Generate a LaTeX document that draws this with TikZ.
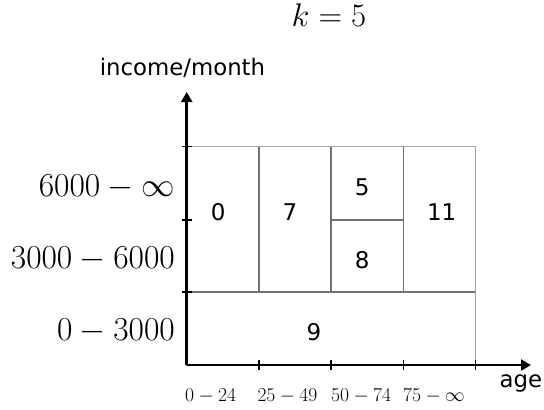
\RequirePackage{fix-cm}
\documentclass[tikz,border=0pt]{standalone}
\usepackage{fontspec}
\setsansfont{DejaVu Sans}
\usetikzlibrary{arrows.meta}
\begin{document}
\begin{tikzpicture}[x=1pt,y=-1pt,
  axisline/.style={line width=2.5pt,-{Triangle[length=10pt,width=11pt]}},
  tickline/.style={line width=1.2pt},
  cellline/.style={draw=black!55,line width=1.2pt},
  outerline/.style={draw=black!35,line width=1.2pt},
  cellnum/.style={font=\sffamily\fontsize{23}{27}\selectfont,inner sep=0pt},
  axlabel/.style={font=\sffamily\fontsize{22.8}{27}\selectfont,inner sep=0pt},
  incomelabel/.style={font=\fontsize{33.5}{38}\selectfont,inner sep=0pt,anchor=base east},
  agelabel/.style={font=\fontsize{19.6}{23}\selectfont,inner sep=0pt,anchor=base west},
  titlelabel/.style={font=\fontsize{32.8}{37}\selectfont,inner sep=0pt,anchor=base}]
\useasboundingbox (0,0) rectangle (544,410);
% coordinates
\coordinate (O) at (186.7,365);
\coordinate (ytop) at (186.7,92);
\coordinate (xend) at (531,365);
% cells
\draw[cellline] (186.7,146.7) rectangle (259,292);
\draw[cellline] (259,146.7) rectangle (331,292);
\draw[cellline] (331,146.7) rectangle (403.3,220);
\draw[cellline] (331,220) rectangle (403.3,292);
\draw[cellline] (403.3,146.7) rectangle (475.3,292);
\draw[cellline] (186.7,292) rectangle (475.3,365);
\draw[outerline] (186.7,146.7) -- (475.3,146.7) -- (475.3,365);
% cell labels
\node[cellnum] (n0) at (218.3,211.7) {0};
\node[cellnum] (n7) at (290,211.7) {7};
\node[cellnum] (n5) at (362.3,187.7) {5};
\node[cellnum] (n8) at (362.3,260) {8};
\node[cellnum] (n11) at (441.7,211.7) {11};
\node[cellnum] (n9) at (314,331.7) {9};
% ticks
\foreach \yy in {146.7,220,292} \draw[tickline] (181.7,\yy) -- (191.7,\yy);
\foreach \xx in {259,331,403.3,475.3} \draw[tickline] (\xx,360) -- (\xx,370);
% axes
\draw[axisline] (O) -- (ytop);
\draw[axisline] (O) -- (xend);
% axis labels
\node[axlabel,anchor=base] (ylab) at (182.5,75) {income/month};
\node[axlabel,anchor=base west] (xlab) at (499.5,387) {age};
\node[titlelabel] (title) at (329,26) {$k=5$};
\node[incomelabel] (i1) at (175,196) {$6000-\infty$};
\node[incomelabel] (i2) at (175,268.3) {$3000-6000$};
\node[incomelabel] (i3) at (175,340) {$0-3000$};
\node[agelabel] (a1) at (185,401.7) {$0-24$};
\node[agelabel] (a2) at (257.3,401.7) {$25-49$};
\node[agelabel] (a3) at (331,401.7) {$50-74$};
\node[agelabel] (a4) at (403,401.7) {$75-\infty$};
\end{tikzpicture}
\end{document}
